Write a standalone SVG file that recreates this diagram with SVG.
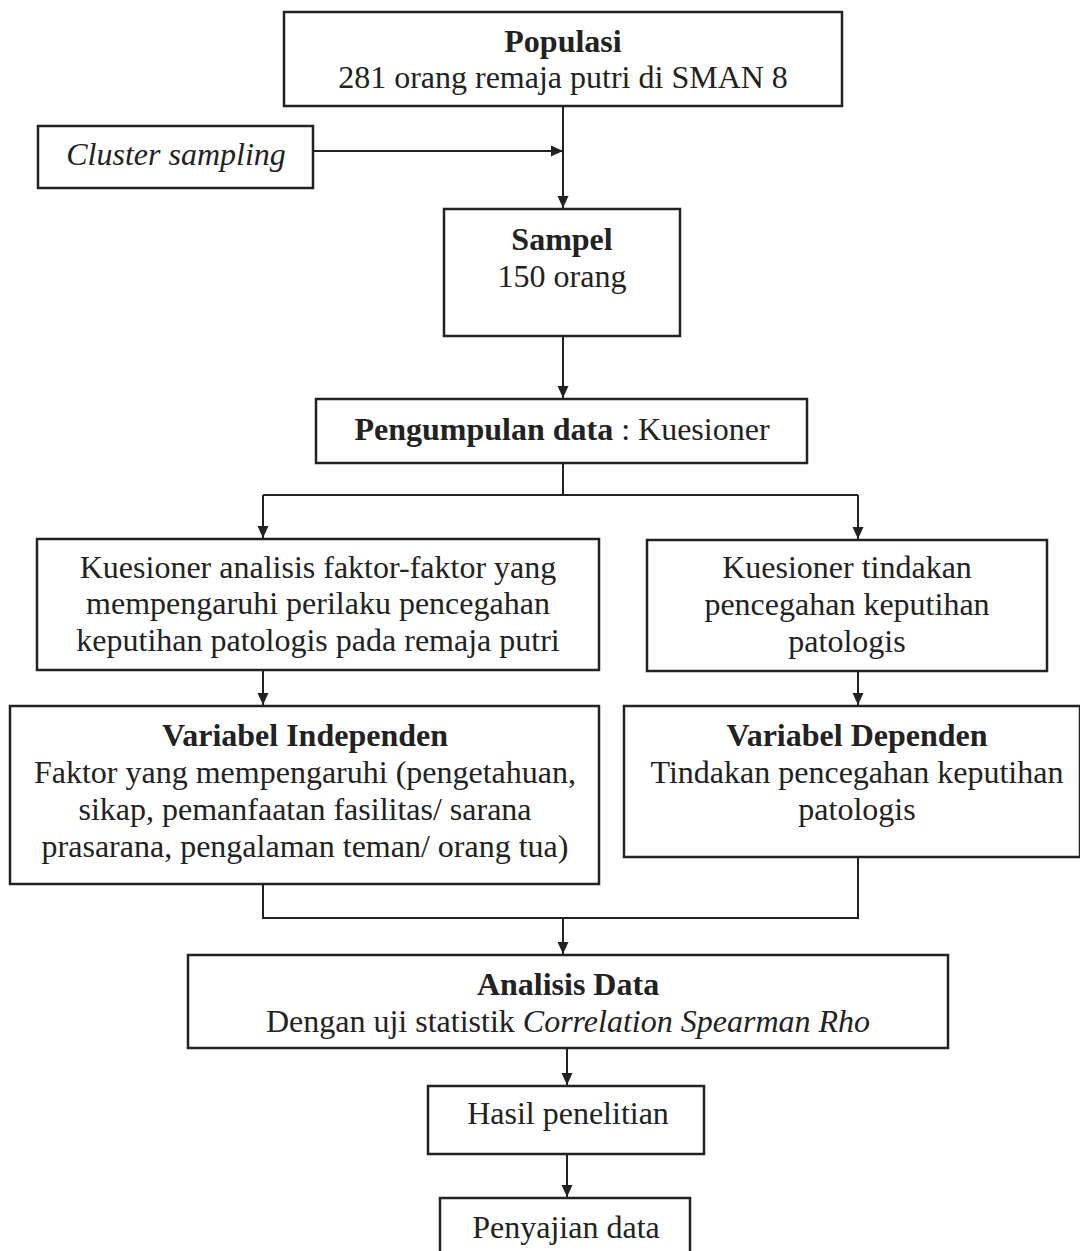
<svg xmlns="http://www.w3.org/2000/svg" width="1080" height="1251" viewBox="0 0 1080 1251">
<style>
.box{fill:#fff;stroke:#222;stroke-width:2.5}
.t{font-family:"Liberation Serif","Times New Roman",serif;font-size:32px;fill:#222;text-anchor:middle}
.b{font-weight:bold}
.i{font-style:italic}
.c{fill:none;stroke:#222;stroke-width:2}
</style>
<defs>
<marker id="ah" viewBox="0 0 12 12" refX="12" refY="6" markerWidth="12" markerHeight="12" markerUnits="userSpaceOnUse" orient="auto"><path d="M0,0.5 L12,6 L0,11.5 Z" fill="#222"/></marker>
</defs>
<rect width="1080" height="1251" fill="#fff"/>
<g id="connectors">
<path class="c" d="M563,107 V208" marker-end="url(#ah)"/>
<path class="c" d="M313,151 H563" marker-end="url(#ah)"/>
<path class="c" d="M563,336 V398" marker-end="url(#ah)"/>
<path class="c" d="M563,463 V495"/>
<path class="c" d="M263,495 H858"/>
<path class="c" d="M263,495 V538" marker-end="url(#ah)"/>
<path class="c" d="M858,495 V539" marker-end="url(#ah)"/>
<path class="c" d="M263,670 V705" marker-end="url(#ah)"/>
<path class="c" d="M858,671 V705" marker-end="url(#ah)"/>
<path class="c" d="M263,884 V918 H858 V857"/>
<path class="c" d="M563,918 V954" marker-end="url(#ah)"/>
<path class="c" d="M567,1048 V1085" marker-end="url(#ah)"/>
<path class="c" d="M567,1154 V1197" marker-end="url(#ah)"/>
</g>
<g id="populasi">
<rect class="box" x="284" y="12" width="558" height="94"/>
<text class="t b" x="563" y="52">Populasi</text>
<text class="t" x="563" y="88">281 orang remaja putri di SMAN 8</text>
</g>
<g id="cluster">
<rect class="box" x="38" y="126" width="275" height="62"/>
<text class="t i" x="176" y="165">Cluster sampling</text>
</g>
<g id="sampel">
<rect class="box" x="444" y="209" width="236" height="127"/>
<text class="t b" x="562" y="250">Sampel</text>
<text class="t" x="562" y="287">150 orang</text>
</g>
<g id="pengumpulan">
<rect class="box" x="316" y="399" width="491" height="64"/>
<text class="t" x="562" y="440"><tspan class="b">Pengumpulan data</tspan> :  Kuesioner</text>
</g>
<g id="kuesioner1">
<rect class="box" x="37" y="539" width="562" height="131"/>
<text class="t" x="318" y="578">Kuesioner analisis faktor-faktor yang</text>
<text class="t" x="318" y="614">mempengaruhi perilaku pencegahan</text>
<text class="t" x="318" y="651">keputihan patologis pada remaja putri</text>
</g>
<g id="kuesioner2">
<rect class="box" x="647" y="540" width="400" height="131"/>
<text class="t" x="847" y="578">Kuesioner tindakan</text>
<text class="t" x="847" y="615">pencegahan keputihan</text>
<text class="t" x="847" y="652">patologis</text>
</g>
<g id="independen">
<rect class="box" x="10" y="706" width="589" height="178"/>
<text class="t b" x="305" y="746">Variabel Independen</text>
<text class="t" x="305" y="783">Faktor yang mempengaruhi (pengetahuan,</text>
<text class="t" x="305" y="820">sikap, pemanfaatan fasilitas/ sarana</text>
<text class="t" x="305" y="857">prasarana, pengalaman teman/ orang tua)</text>
</g>
<g id="dependen">
<rect class="box" x="624" y="706" width="456" height="151"/>
<text class="t b" x="857" y="746">Variabel Dependen</text>
<text class="t" x="857" y="783">Tindakan pencegahan keputihan</text>
<text class="t" x="857" y="820">patologis</text>
</g>
<g id="analisis">
<rect class="box" x="188" y="955" width="760" height="93"/>
<text class="t b" x="568" y="995">Analisis Data</text>
<text class="t" x="568" y="1032">Dengan uji statistik <tspan class="i">Correlation Spearman Rho</tspan></text>
</g>
<g id="hasil">
<rect class="box" x="428" y="1086" width="276" height="68"/>
<text class="t" x="568" y="1124">Hasil penelitian</text>
</g>
<g id="penyajian">
<rect class="box" x="440" y="1198" width="250" height="70"/>
<text class="t" x="566" y="1238">Penyajian data</text>
</g>
</svg>
